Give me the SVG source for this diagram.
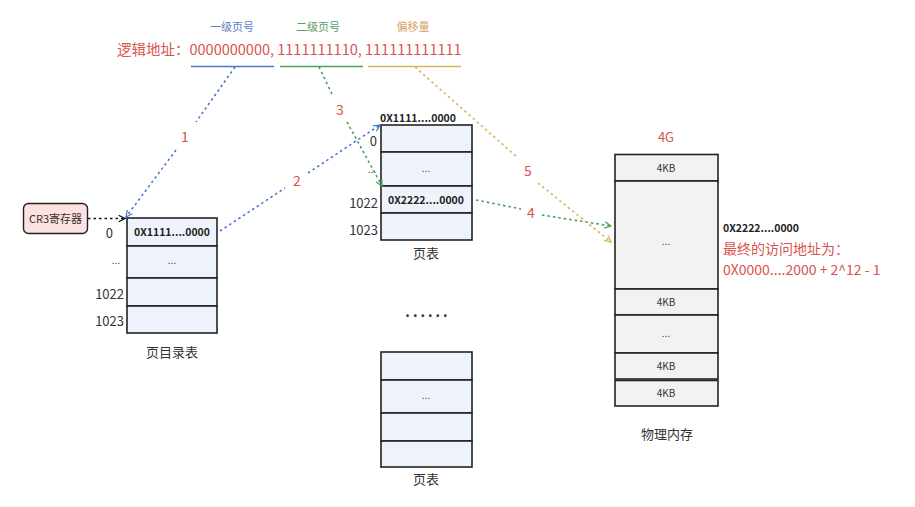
<svg xmlns="http://www.w3.org/2000/svg" width="915" height="507" viewBox="0 0 915 507">
<defs>
<style>
text{font-family:"Noto Sans CJK SC","Noto Sans",sans-serif;}
.t{fill:#eef2fb;stroke:#222;stroke-width:1.6;}
.m{fill:#f2f2f2;stroke:#222;stroke-width:1.6;}
.lbl{font-size:13px;fill:#333;}
.idx{font-size:13px;fill:#333;text-anchor:end;}
.b{font-size:10.5px;font-weight:bold;fill:#222;}
.c{text-anchor:middle;}
.num{font-size:14px;fill:#d9534f;text-anchor:middle;}
.dots{font-size:10px;fill:#444;text-anchor:middle;}
.small{font-size:10px;fill:#333;text-anchor:middle;}
.con{fill:none;stroke-width:1.6;stroke-dasharray:2.5 3;}
</style>
<marker id="ab" viewBox="0 0 10 10" refX="9" refY="5" markerWidth="8" markerHeight="8" orient="auto" markerUnits="userSpaceOnUse"><path d="M1,1 L9,5 L1,9" fill="none" stroke="#4a78cf" stroke-width="1.6"/></marker>
<marker id="ag" viewBox="0 0 10 10" refX="9" refY="5" markerWidth="8" markerHeight="8" orient="auto" markerUnits="userSpaceOnUse"><path d="M1,1 L9,5 L1,9" fill="none" stroke="#4b9e5c" stroke-width="1.6"/></marker>
<marker id="ao" viewBox="0 0 10 10" refX="9" refY="5" markerWidth="8" markerHeight="8" orient="auto" markerUnits="userSpaceOnUse"><path d="M1,1 L9,5 L1,9" fill="none" stroke="#d8b656" stroke-width="1.6"/></marker>
<marker id="ak" viewBox="0 0 10 10" refX="9" refY="5" markerWidth="8" markerHeight="8" orient="auto" markerUnits="userSpaceOnUse"><path d="M1,1 L9,5 L1,9" fill="none" stroke="#111" stroke-width="1.6"/></marker>
</defs>
<rect width="915" height="507" fill="#fff"/>

<g id="address">
<text x="232" y="31" class="c" font-size="11" fill="#5b7fcc">一级页号</text>
<text x="318" y="31" class="c" font-size="11" fill="#5a9e66">二级页号</text>
<text x="413" y="31" class="c" font-size="11" fill="#d4a46a">偏移量</text>
<text x="117" y="55" font-size="14.5" fill="#d9534f">逻辑地址：0000000000, 1111111110, 111111111111</text>
<line x1="191" y1="66.5" x2="274" y2="66.5" stroke="#4a78cf" stroke-width="1.6"/>
<line x1="280" y1="66.5" x2="363" y2="66.5" stroke="#4b9e5c" stroke-width="1.6"/>
<line x1="368" y1="66.5" x2="461" y2="66.5" stroke="#d8b656" stroke-width="1.6"/>
</g>

<g id="cr3">
<rect x="23.5" y="203.5" width="64" height="30" rx="5" fill="#fde0e0" stroke="#222" stroke-width="1.4"/>
<text x="55.5" y="222.5" class="c" font-size="11" fill="#333">CR3寄存器</text>
</g>

<g id="page-directory">
<rect x="127" y="218" width="90" height="28" class="t"/>
<rect x="127" y="246" width="90" height="32" class="t"/>
<rect x="127" y="278" width="90" height="28" class="t"/>
<rect x="127" y="306" width="90" height="27" class="t"/>
<text x="172" y="236" class="b c">0X1111....0000</text>
<text x="172" y="264" class="dots">...</text>
<text x="113" y="238" class="idx">0</text>
<text x="116" y="264" class="dots">...</text>
<text x="124" y="299" class="idx">1022</text>
<text x="124" y="326" class="idx">1023</text>
<text x="172" y="357" class="lbl c">页目录表</text>
</g>

<g id="page-table-1">
<rect x="381" y="125" width="91" height="27" class="t"/>
<rect x="381" y="152" width="91" height="34" class="t"/>
<rect x="381" y="186" width="91" height="27" class="t"/>
<rect x="381" y="213" width="91" height="27" class="t"/>
<text x="380" y="122" class="b">0X1111....0000</text>
<text x="426" y="172" class="dots">...</text>
<text x="426" y="204" class="b c">0X2222....0000</text>
<text x="377" y="146" class="idx">0</text>
<text x="372" y="173" class="dots">...</text>
<text x="378" y="208" class="idx">1022</text>
<text x="378" y="235" class="idx">1023</text>
<text x="426" y="258" class="lbl c">页表</text>
</g>

<g id="ellipsis">
<text x="428" y="317" class="c" font-size="14" font-weight="bold" fill="#333" letter-spacing="3">......</text>
</g>

<g id="page-table-2">
<rect x="381" y="352" width="91" height="28" class="t"/>
<rect x="381" y="380" width="91" height="33" class="t"/>
<rect x="381" y="413" width="91" height="28" class="t"/>
<rect x="381" y="441" width="91" height="26" class="t"/>
<text x="426" y="399" class="dots">...</text>
<text x="426" y="484" class="lbl c">页表</text>
</g>

<g id="physical-memory">
<text x="666" y="142" class="c" font-size="13" fill="#d9534f">4G</text>
<rect x="615" y="154.5" width="103" height="26.5" class="m"/>
<rect x="615" y="181" width="103" height="108" class="m"/>
<rect x="615" y="289" width="103" height="26" class="m"/>
<rect x="615" y="315" width="103" height="38" class="m"/>
<rect x="615" y="353" width="103" height="26" class="m"/>
<rect x="615" y="380.5" width="103" height="25.5" class="m"/>
<text x="666" y="172" class="small">4KB</text>
<text x="666" y="245" class="dots">...</text>
<text x="666" y="306" class="small">4KB</text>
<text x="666" y="337" class="dots">...</text>
<text x="666" y="370" class="small">4KB</text>
<text x="666" y="397" class="small">4KB</text>
<text x="667" y="439" class="lbl c">物理内存</text>
</g>

<g id="result">
<text x="723" y="232" class="b">0X2222....0000</text>
<text x="723" y="254" font-size="14" fill="#d9534f">最终的访问地址为：</text>
<text x="723" y="275" font-size="14" fill="#d9534f">0X0000....2000 + 2^12 - 1</text>
</g>

<g id="connectors">
<line x1="88" y1="218.5" x2="125" y2="218.5" class="con" stroke="#111" marker-end="url(#ak)"/>
<path d="M235,67 L196,122 M176,150 L126,217" class="con" stroke="#4a78cf" marker-end="url(#ab)"/>
<path d="M220,231 L285,188 M308,173 L380,125" class="con" stroke="#4a78cf" marker-end="url(#ab)"/>
<path d="M319,67 L333,96 M347,122 L382,186" class="con" stroke="#4b9e5c" marker-end="url(#ag)"/>
<path d="M476,200 L521,209 M542,215 L611,226" class="con" stroke="#4b9e5c" marker-end="url(#ag)"/>
<path d="M415,67 L518,158 M538,183 L611,242" class="con" stroke="#d8b656" marker-end="url(#ao)"/>
<text x="185" y="142" class="num">1</text>
<text x="297" y="186" class="num">2</text>
<text x="340" y="115" class="num">3</text>
<text x="531" y="218" class="num">4</text>
<text x="528" y="176" class="num">5</text>
</g>
</svg>
